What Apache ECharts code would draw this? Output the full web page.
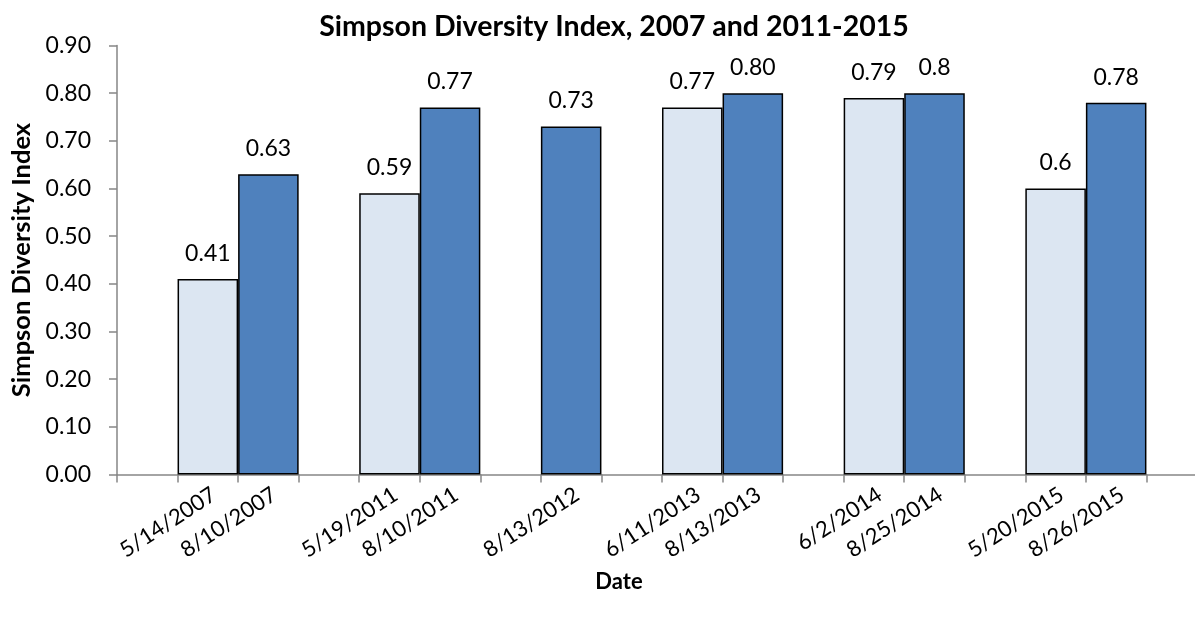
<!DOCTYPE html>
<html>
<head>
<meta charset="utf-8">
<script src="https://cdn.jsdelivr.net/npm/echarts@6/dist/echarts.min.js"></script>
<style>
  html, body { margin: 0; padding: 0; background: #ffffff; }
  #chart { width: 1195px; height: 620px; }
</style>
</head>
<body>
<div id="chart"></div>
<script>
// Sampling dates, with blank slots separating the years
const categories = ['', '5/14/2007', '8/10/2007', '', '5/19/2011', '8/10/2011', '', '8/13/2012', '',
  '6/11/2013', '8/13/2013', '', '6/2/2014', '8/25/2014', '', '5/20/2015', '8/26/2015', ''];

// Spring (May/June) samples
const springValues = [null, 0.41, null, null, 0.59, null, null, null, null,
  0.77, null, null, 0.79, null, null, 0.6, null, null];
// Late-summer (August) samples
const summerValues = [null, null, 0.63, null, null, 0.77, null, 0.73, null,
  null, 0.80, null, null, 0.8, null, null, 0.78, null];

// Decimal places shown in each value label
const springDigits = [0, 2, 0, 0, 2, 0, 0, 0, 0, 2, 0, 0, 2, 0, 0, 1, 0, 0];
const summerDigits = [0, 0, 2, 0, 0, 2, 0, 2, 0, 0, 2, 0, 0, 1, 0, 0, 2, 0];

const yTicks = { min: 0, max: 0.9, step: 0.1 };

const FONT = 'Lato, "Open Sans", sans-serif';
const AXIS_GREY = '#868686';

const chart = echarts.init(document.getElementById('chart'), null, { renderer: 'canvas' });

function barSeries(name, values, digits, color) {
  return {
    name: name,
    type: 'bar',
    data: values,
    barWidth: '100%',
    barGap: '-100%',
    itemStyle: { color: color, borderColor: '#000000', borderWidth: 1.5 },
    label: {
      show: true,
      position: 'top',
      distance: 14,
      color: '#000000',
      fontFamily: FONT,
      fontSize: 23,
      formatter: p => (p.value == null ? '' : Number(p.value).toFixed(digits[p.dataIndex]))
    },
    emphasis: { disabled: true },
    animation: false
  };
}

chart.setOption({
  backgroundColor: '#ffffff',
  animation: false,
  title: {
    text: 'Simpson Diversity Index, 2007 and 2011-2015',
    left: 609,
    textAlign: 'center',
    top: 7,
    textStyle: { fontFamily: FONT, fontWeight: 'bold', fontSize: 28.5, color: '#000000' }
  },
  grid: {
    left: 117,
    right: -12,
    top: 45.5,
    bottom: 145.5,
    containLabel: false,
    outerBoundsMode: 'none'
  },
  xAxis: {
    type: 'category',
    data: categories,
    boundaryGap: true,
    name: 'Date',
    nameLocation: 'middle',
    nameGap: 96,
    nameMoveOverlap: false,
    nameTextStyle: {
      fontFamily: FONT, fontWeight: 'bold', fontSize: 22, color: '#000000',
      padding: [0, 86, 0, 0]
    },
    axisLine: { show: true, lineStyle: { color: AXIS_GREY, width: 1.5 } },
    axisTick: { show: true, interval: 0, length: 8, alignWithLabel: false, lineStyle: { color: AXIS_GREY, width: 1.5 } },
    axisLabel: {
      interval: 0,
      rotate: 33,
      margin: 9,
      verticalAlign: 'top',
      fontFamily: FONT,
      fontSize: 22,
      color: '#000000'
    },
    splitLine: { show: false }
  },
  yAxis: {
    type: 'value',
    min: yTicks.min,
    max: yTicks.max,
    interval: yTicks.step,
    name: 'Simpson Diversity Index',
    nameLocation: 'middle',
    nameRotate: 90,
    nameGap: 82,
    nameTextStyle: { fontFamily: FONT, fontWeight: 'bold', fontSize: 25.5, color: '#000000' },
    axisLine: { show: true, lineStyle: { color: AXIS_GREY, width: 1.5 } },
    axisTick: { show: true, inside: false, length: 8, lineStyle: { color: AXIS_GREY, width: 1.5 } },
    axisLabel: {
      margin: 26,
      fontFamily: FONT,
      fontSize: 23,
      color: '#000000',
      formatter: v => v.toFixed(2)
    },
    splitLine: { show: false }
  },
  series: [
    barSeries('Spring', springValues, springDigits, '#DCE6F2'),
    barSeries('Summer', summerValues, summerDigits, '#4F81BD')
  ]
});
</script>
</body>
</html>
